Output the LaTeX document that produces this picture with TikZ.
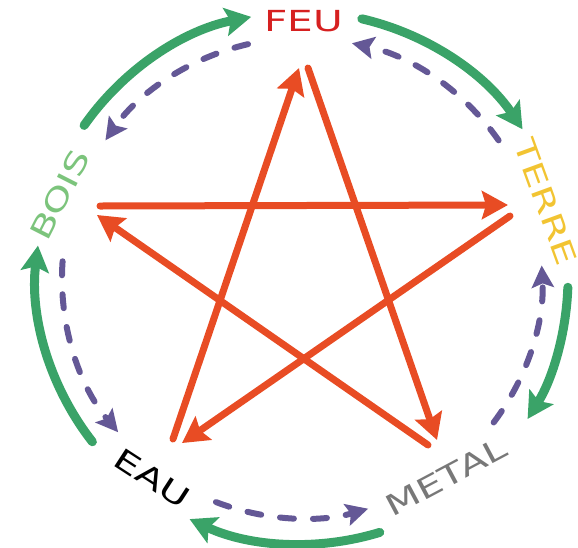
\documentclass[tikz,border=0pt]{standalone}
\usepackage{fontspec}
\setmainfont{DejaVu Sans}
\usetikzlibrary{arrows.meta}
\definecolor{cyclegreen}{RGB}{58,163,104}
\definecolor{ctrlpurple}{RGB}{100,88,150}
\definecolor{starred}{RGB}{232,76,36}
\definecolor{feured}{RGB}{214,32,32}
\definecolor{terreyellow}{RGB}{242,196,50}
\definecolor{boisgreen}{RGB}{124,196,124}
\definecolor{metalgray}{RGB}{120,120,120}
\begin{document}
\begin{tikzpicture}[x=1pt,y=-1pt,
  gen/.style={draw=cyclegreen,line width=9pt,line cap=round,-{Stealth[length=26pt,width=28pt,inset=5pt]}},
  ctrl/.style={draw=ctrlpurple,line width=6pt,line cap=round,dash pattern=on 14pt off 19pt,-{Stealth[length=22pt,width=22pt,inset=4pt]}},
  starline/.style={draw=starred,line width=7pt,line cap=round,-{Stealth[length=26pt,width=28pt,inset=4pt]}},
  lab/.style={font=\fontsize{29}{31}\selectfont,inner sep=0pt,xscale=1.4}]
\useasboundingbox (0,0) rectangle (578,547);
\coordinate (C) at (302,278);
% labels
\node[lab,text=feured] (feu) at (304,21) {FEU};
\node[rotate=-70,lab,text=terreyellow] (terre) at (546,202) {TERRE};
\node[rotate=63,lab,text=boisgreen] (bois) at (60,195) {BOIS};
\node[rotate=-33,lab,text=black] (eau) at (152,478) {EAU};
\node[rotate=28,lab,text=metalgray] (metal) at (446,477) {METAL};
% generating cycle (green)
\coordinate (g1) at ([shift={(-145:266)}]C);
\coordinate (g2) at ([shift={(-77:266)}]C);
\coordinate (g3) at ([shift={(2:266)}]C);
\coordinate (g4) at ([shift={(73:266)}]C);
\coordinate (g5) at ([shift={(-218:266)}]C);
\draw[gen] (g1) arc[start angle=-145,end angle=-101,radius=266];
\draw[gen] (g2) arc[start angle=-77,end angle=-34,radius=266];
\draw[gen] (g3) arc[start angle=2,end angle=32,radius=266];
\draw[gen] (g4) arc[start angle=73,end angle=115,radius=266];
\draw[gen] (g5) arc[start angle=-218,end angle=-173,radius=266];
% reverse cycle (purple dashed)
\coordinate (p1) at ([shift={(-103:240)}]C);
\coordinate (p2) at ([shift={(-35:240)}]C);
\coordinate (p3) at ([shift={(37:240)}]C);
\coordinate (p4) at ([shift={(111:240)}]C);
\coordinate (p5) at ([shift={(-176:240)}]C);
\draw[ctrl] (p1) arc[start angle=-103,end angle=-145,radius=240];
\draw[ctrl] (p2) arc[start angle=-35,end angle=-78,radius=240];
\draw[ctrl] (p3) arc[start angle=37,end angle=-3,radius=240];
\draw[ctrl] (p4) arc[start angle=111,end angle=74,radius=240];
\draw[ctrl] (p5) arc[start angle=-176,end angle=-220,radius=240];
% star (red)
\coordinate (s1a) at (100,206); \coordinate (s1b) at (508,205);
\coordinate (s2a) at (510,216); \coordinate (s2b) at (182,443);
\coordinate (s3a) at (173,439); \coordinate (s3b) at (299,68);
\coordinate (s4a) at (308,68);  \coordinate (s4b) at (437,440);
\coordinate (s5a) at (428,445); \coordinate (s5b) at (97,215);
\draw[starline] (s1a) -- (s1b);
\draw[starline] (s2a) -- (s2b);
\draw[starline] (s3a) -- (s3b);
\draw[starline] (s4a) -- (s4b);
\draw[starline] (s5a) -- (s5b);
\end{tikzpicture}
\end{document}
